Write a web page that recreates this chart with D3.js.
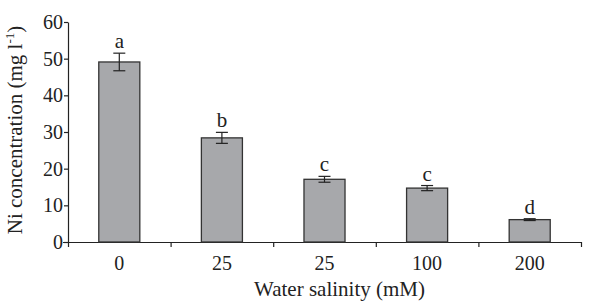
<!DOCTYPE html>
<html>
<head>
<meta charset="utf-8">
<script src="https://cdn.jsdelivr.net/npm/d3@7"></script>
<style>
body { margin: 0; background: #fff; }
svg text { font-family: "Liberation Serif", "DejaVu Serif", serif; fill: #222; }
</style>
</head>
<body>
<svg id="chart" width="607" height="302"></svg>
<script>
var categories = ["0", "25", "25 ", "100", "200"];
var tickLabels = ["0", "25", "25", "100", "200"];
var values = [49.1, 28.4, 17.1, 14.7, 6.1];
var errors = [2.4, 1.5, 0.8, 0.7, 0.25];
var letters = ["a", "b", "c", "c", "d"];

var margin = { left: 68, top: 22 };
var width = 513;
var height = 220;

var svg = d3.select("#chart");
var g = svg.append("g")
    .attr("transform", "translate(" + margin.left + "," + margin.top + ")");

var x = d3.scaleBand().domain(categories).range([0, width]).paddingInner(0.6).paddingOuter(0.3);
var y = d3.scaleLinear().domain([0, 60]).range([height, 0]);

// y axis
var yAxis = g.append("g")
    .call(d3.axisLeft(y).tickValues([0, 10, 20, 30, 40, 50, 60]).tickSize(4).tickSizeOuter(0));
yAxis.select(".domain").attr("stroke", "#222").attr("stroke-width", 1.2);
yAxis.selectAll(".tick line").attr("stroke", "#222").attr("stroke-width", 1.2);
yAxis.selectAll(".tick text").attr("font-size", 20).attr("x", -5);

// x axis, ticks between bands
var xLine = d3.scaleLinear().domain([0, categories.length]).range([0, width]);
var xAxis = g.append("g")
    .attr("transform", "translate(0," + height + ")")
    .call(d3.axisBottom(xLine).tickValues(d3.range(0, categories.length + 1)).tickSize(5).tickSizeOuter(0).tickFormat(""));
xAxis.select(".domain").attr("stroke", "#222").attr("stroke-width", 1.2).attr("d", "M-5,0.5H" + width);
xAxis.selectAll(".tick line").attr("stroke", "#222").attr("stroke-width", 1.2);

g.selectAll(".xlab")
    .data(categories)
    .enter().append("text")
    .attr("class", "xlab")
    .attr("x", function(d) { return x(d) + x.bandwidth() / 2; })
    .attr("y", height + 28)
    .attr("text-anchor", "middle")
    .attr("font-size", 20)
    .text(function(d, i) { return tickLabels[i]; });

// bars
g.selectAll(".bar")
    .data(values)
    .enter().append("rect")
    .attr("class", "bar")
    .attr("x", function(d, i) { return x(categories[i]); })
    .attr("y", function(d) { return y(d); })
    .attr("width", x.bandwidth())
    .attr("height", function(d) { return height - y(d); })
    .attr("fill", "#a7a8ab")
    .attr("stroke", "#333")
    .attr("stroke-width", 1.3);

// error bars
var eb = g.selectAll(".err")
    .data(values)
    .enter().append("g")
    .attr("class", "err")
    .attr("stroke", "#222")
    .attr("stroke-width", 1.2);
eb.append("line")
    .attr("x1", function(d, i) { return x(categories[i]) + x.bandwidth() / 2; })
    .attr("x2", function(d, i) { return x(categories[i]) + x.bandwidth() / 2; })
    .attr("y1", function(d, i) { return y(d + errors[i]); })
    .attr("y2", function(d, i) { return y(d - errors[i]); });
eb.append("line")
    .attr("x1", function(d, i) { return x(categories[i]) + x.bandwidth() / 2 - 6; })
    .attr("x2", function(d, i) { return x(categories[i]) + x.bandwidth() / 2 + 6; })
    .attr("y1", function(d, i) { return y(d + errors[i]); })
    .attr("y2", function(d, i) { return y(d + errors[i]); });
eb.append("line")
    .attr("x1", function(d, i) { return x(categories[i]) + x.bandwidth() / 2 - 6; })
    .attr("x2", function(d, i) { return x(categories[i]) + x.bandwidth() / 2 + 6; })
    .attr("y1", function(d, i) { return y(d - errors[i]); })
    .attr("y2", function(d, i) { return y(d - errors[i]); });

// significance letters
g.selectAll(".letter")
    .data(values)
    .enter().append("text")
    .attr("class", "letter")
    .attr("x", function(d, i) { return x(categories[i]) + x.bandwidth() / 2; })
    .attr("y", function(d, i) { return y(d + errors[i]) - 5; })
    .attr("text-anchor", "middle")
    .attr("font-size", 21)
    .text(function(d, i) { return letters[i]; });

// axis titles
g.append("text")
    .attr("x", width / 2 + 15)
    .attr("y", height + 54)
    .attr("text-anchor", "middle")
    .attr("font-size", 21)
    .text("Water salinity (mM)");

var yt = g.append("text")
    .attr("transform", "translate(-46," + (height / 2 - 2) + ") rotate(-90)")
    .attr("text-anchor", "middle")
    .attr("font-size", 21);
yt.append("tspan").text("Ni concentration (mg l");
yt.append("tspan").attr("dy", -8).attr("font-size", 13).text("-1");
yt.append("tspan").attr("dy", 8).text(")");
</script>
</body>
</html>
